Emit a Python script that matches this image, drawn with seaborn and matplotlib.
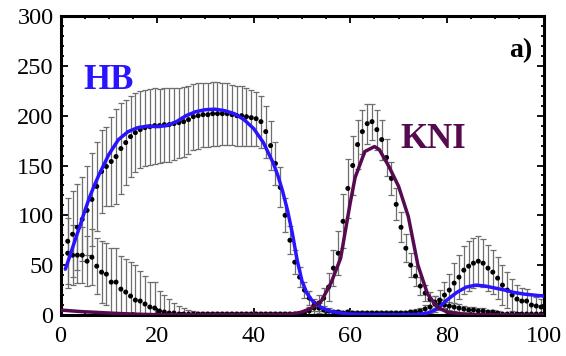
import numpy as np
import pandas as pd
import matplotlib
matplotlib.use("Agg")
import matplotlib.pyplot as plt
from matplotlib.ticker import MultipleLocator
import seaborn as sns

# Position along the embryo (% egg length), one bin per percent
positions = np.arange(1.5, 100.0, 1.0)

# Measured Hunchback profile (mean and standard deviation per bin)
hb_data = [
    74, 81, 88, 96, 105, 116, 129, 144, 149, 154,
    159, 167, 173, 179, 183, 186, 188, 189, 190, 190,
    191, 191, 192, 193, 194, 196, 199, 200, 201, 201,
    202, 202, 202, 202, 201, 200, 200, 199, 198, 197,
    194, 184, 170, 152, 128, 100, 75, 53, 38, 25,
    17, 10, 7, 5, 4, 3, 3, 2, 3, 2,
    2, 2, 2, 2, 2, 2, 2, 2, 2, 2,
    2, 3, 3, 4, 6, 8, 11, 15, 20, 25,
    32, 38, 45, 49, 52, 54, 52, 47, 43, 37,
    30, 25, 20, 16, 14, 14, 10, 9, 8,
]
hb_err = [
    43, 43, 43, 42, 45, 47, 45, 42, 40, 45,
    48, 46, 43, 41, 40, 39, 38, 38, 38, 37,
    37, 37, 36, 35, 35, 34, 33, 33, 32, 32,
    32, 32, 31, 31, 30, 30, 30, 29, 28, 27,
    26, 26, 25, 22, 20, 17, 14, 12, 10, 8,
    7, 6, 5, 4, 3, 2, 2, 2, 2, 2,
    2, 2, 2, 2, 2, 2, 2, 2, 2, 2,
    2, 2, 3, 3, 4, 6, 8, 10, 13, 16,
    20, 22, 24, 25, 25, 25, 24, 23, 22, 21,
    20, 18, 16, 14, 13, 12, 10, 9, 8,
]

# Measured Knirps profile
kni_data = [
    62, 60, 60, 60, 54, 58, 49, 43, 41, 33,
    33, 26, 23, 19, 15, 14, 11, 8, 7, 4,
    3, 2, 2, 1, 1, 1, 1, 1, 1, 1,
    1, 1, 1, 1, 1, 1, 1, 1, 1, 1,
    1, 1, 1, 1, 1, 1, 1, 1, 1, 2,
    4, 7, 12, 17, 28, 47, 62, 94, 127, 150,
    171, 184, 192, 194, 186, 176, 158, 137, 111, 88,
    67, 50, 39, 29, 22, 16, 13, 11, 10, 9,
    8, 7, 6, 5, 5, 4, 4, 3, 3, 2,
    1, 1, 1, 1, 1, 1, 1, 1, 1,
]
kni_err = [
    35, 30, 28, 28, 25, 28, 28, 31, 31, 34,
    34, 33, 33, 34, 35, 30, 28, 25, 26, 20,
    17, 14, 10, 8, 6, 4, 3, 2, 2, 2,
    2, 2, 2, 2, 2, 2, 2, 2, 2, 2,
    2, 2, 2, 2, 2, 2, 2, 2, 2, 3,
    4, 6, 8, 10, 14, 18, 22, 27, 30, 30,
    25, 22, 20, 18, 20, 20, 19, 17, 16, 15,
    14, 12, 10, 9, 8, 7, 6, 5, 5, 4,
    4, 4, 3, 3, 3, 3, 3, 2, 2, 2,
    1, 1, 1, 1, 1, 1, 1, 1, 1,
]

# Model solutions
hb_model_x = [1, 2, 3, 4, 5, 6, 7, 8, 10, 12, 14, 16, 18, 20, 22, 24, 26, 28,
              30, 32, 34, 36, 38, 40, 42, 44, 45, 46, 47, 48, 49, 50, 51, 52,
              54, 56, 58, 60, 64, 70, 74, 76, 78, 80, 82, 84, 86, 88, 90, 92,
              94, 96, 98, 100]
hb_model_y = [46, 60, 75, 89, 104, 118, 130, 141, 161, 176, 184, 188, 189.5,
              189, 190, 194, 200, 204, 206, 206.5, 205, 202, 196, 187, 173,
              153, 140, 124, 105, 82, 55, 34, 22, 15, 7.5, 3.5, 2, 1, 0.5,
              0.3, 0.6, 2, 6, 15, 22.5, 28, 30, 29, 27, 25, 22.5, 21, 20, 19]

kni_model_x = [0, 4, 8, 12, 16, 20, 46, 48, 50, 52, 54, 56, 58, 59, 60, 61, 62,
               63, 65, 66, 68, 70, 72, 74, 76, 78, 80, 84, 100]
kni_model_y = [5, 3.5, 2.5, 1.5, 0.8, 0.3, 0.3, 1, 3, 7, 14, 32, 57, 85, 113,
               138, 151, 164, 169, 166, 149, 129, 99, 50, 21, 8, 3, 0.5, 0]

HB_COLOR = "#2a14ff"
KNI_COLOR = "#560b50"

sns.set_style("ticks")
plt.rcParams["font.family"] = ["Liberation Serif", "DejaVu Serif"]

fig = plt.figure(figsize=(5.66, 3.56), dpi=100)
ax = fig.add_axes([60.5 / 566, 1 - 315 / 356, 483 / 566, 299 / 356])

# error bars for both measured profiles
for vals, errs in [(hb_data, hb_err), (kni_data, kni_err)]:
    ax.errorbar(positions, vals, yerr=errs, fmt="none", ecolor="#6e6e6e",
                elinewidth=0.9, capsize=2.3, capthick=0.9, zorder=2)

points = pd.DataFrame({
    "x": np.concatenate([positions, positions]),
    "y": hb_data + kni_data,
    "gene": ["HB"] * len(hb_data) + ["KNI"] * len(kni_data),
})
sns.scatterplot(data=points, x="x", y="y", color="black", s=13,
                edgecolor="none", ax=ax, zorder=3, legend=False)

sns.lineplot(x=hb_model_x, y=hb_model_y, color=HB_COLOR, lw=2.5, ax=ax,
             zorder=4)
sns.lineplot(x=kni_model_x, y=kni_model_y, color=KNI_COLOR, lw=2.5, ax=ax,
             zorder=4)

ax.set_xlim(0, 100)
ax.set_ylim(0, 300)
ax.set_xlabel("")
ax.set_ylabel("")
ax.xaxis.set_major_locator(MultipleLocator(20))
ax.xaxis.set_minor_locator(MultipleLocator(5))
ax.yaxis.set_major_locator(MultipleLocator(50))
ax.yaxis.set_minor_locator(MultipleLocator(10))
ax.tick_params(which="both", direction="in", top=True, right=True,
               colors="black", width=1.3, labelsize=17.5)
ax.tick_params(which="major", length=5)
ax.tick_params(which="minor", length=2.5)
ax.tick_params(axis="y", pad=5)
ax.tick_params(axis="x", pad=8)
for spine in ax.spines.values():
    spine.set_linewidth(2.2)
    spine.set_color("black")

ax.text(4.7, 226.6, "HB", color=HB_COLOR, fontsize=25, fontweight="bold",
        ha="left", va="baseline", zorder=5)
ax.text(70.3, 168, "KNI", color=KNI_COLOR, fontsize=25, fontweight="bold",
        ha="left", va="baseline", zorder=5)
ax.text(97.8, 259, "a)", color="black", fontsize=20, fontweight="bold",
        ha="right", va="baseline", zorder=5)

fig.savefig("out.png", dpi=100)
